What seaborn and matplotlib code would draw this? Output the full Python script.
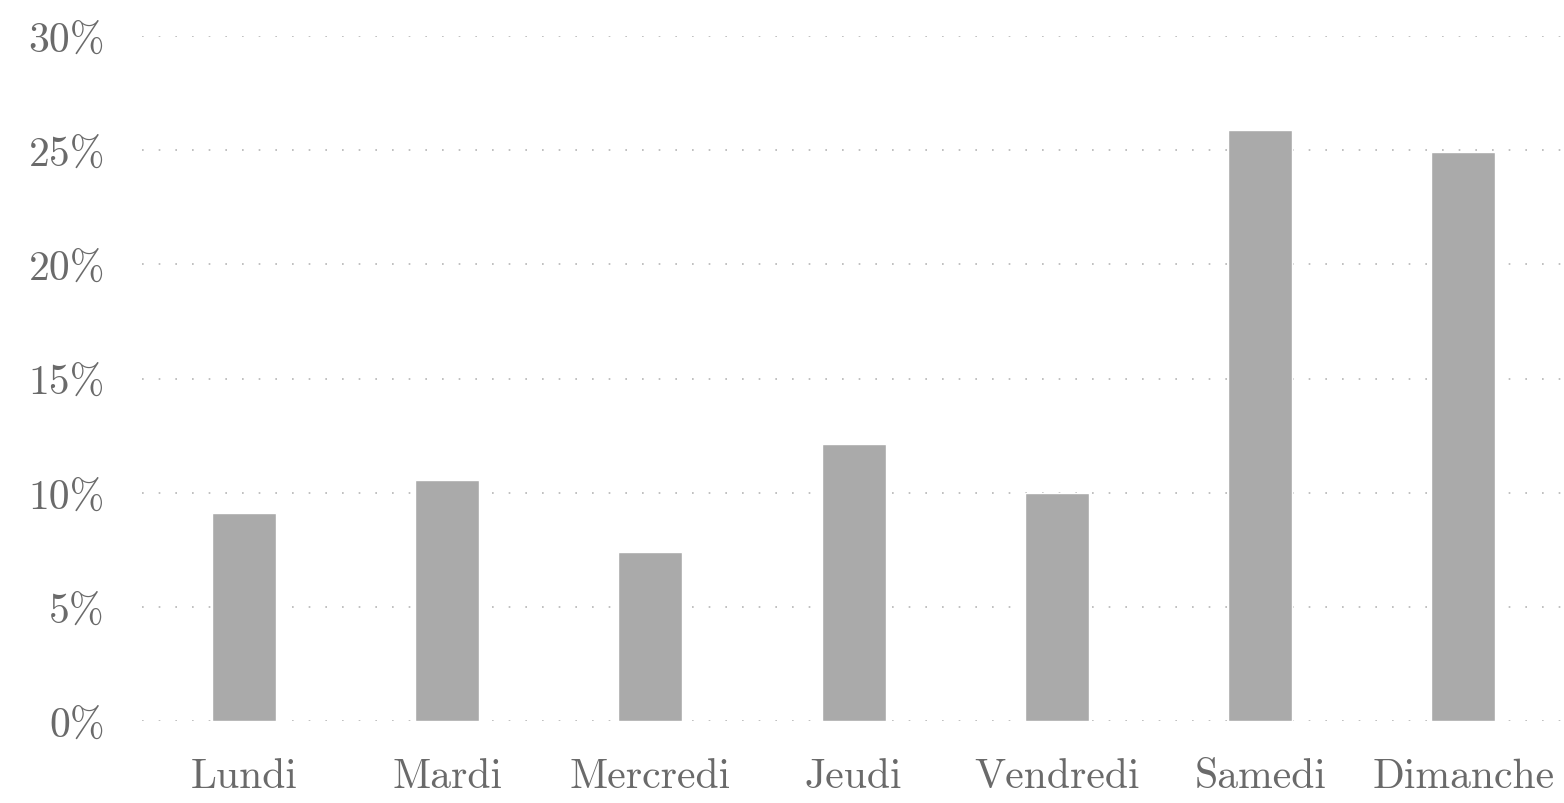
import matplotlib
matplotlib.use("Agg")
import matplotlib.pyplot as plt
import seaborn as sns
import pandas as pd

# Share of visits per weekday (%)
days = ["Lundi", "Mardi", "Mercredi", "Jeudi", "Vendredi", "Samedi", "Dimanche"]
shares = [9.1, 10.55, 7.4, 12.15, 10.0, 25.9, 24.9]
y_ticks = [0, 5, 10, 15, 20, 25, 30]
y_tick_labels = ["0%", "5%", "10%", "15%", "20%", "25%", "30%"]

sns.set_theme(style="white")
plt.rcParams["font.family"] = ["cmr10", "DejaVu Serif"]
plt.rcParams["axes.unicode_minus"] = False

df = pd.DataFrame({"jour": days, "part": shares})

fig = plt.figure(figsize=(15.64, 8.04), dpi=100)
ax = fig.add_axes([142.4 / 1564, (804 - 722) / 804,
                   (1565 - 142.4) / 1564, (722 - 37) / 804])

sns.barplot(data=df, x="jour", y="part", color="#aaaaaa", saturation=1,
            width=0.315, ax=ax, zorder=3)

ax.set_ylim(0, 30)
ax.set_xlim(-0.5, 6.5)
ax.set_yticks(y_ticks)
ax.set_yticklabels(y_tick_labels)
ax.set_xlabel("")
ax.set_ylabel("")

ax.yaxis.grid(True, color="#b5b5b5", linewidth=1.2, linestyle=(0, (1, 9)), zorder=0)
ax.xaxis.grid(False)
for s in ax.spines.values():
    s.set_visible(False)

ax.tick_params(axis="y", length=0, pad=27, labelsize=30, labelcolor="#6a6a6a")
ax.tick_params(axis="x", length=0, pad=26, labelsize=30, labelcolor="#6a6a6a")

fig.savefig("out.png", dpi=100, facecolor="white")
